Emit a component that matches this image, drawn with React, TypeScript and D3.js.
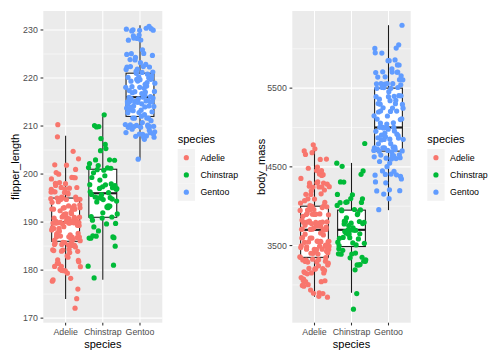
import * as React from "react";
import * as d3 from "d3";

const species = ["Adelie", "Chinstrap", "Gentoo"];
const colors = ["#F8766D", "#00BA38", "#619CFF"];

const adelieFlipper = [181, 186, 195, 193, 190, 181, 195, 193, 190, 186, 180, 182, 191, 198, 185, 195, 197, 184, 194, 174, 180, 189, 185, 180, 187, 183, 187, 172, 180, 178, 178, 188, 184, 195, 196, 190, 180, 181, 184, 182, 195, 186, 196, 185, 190, 182, 179, 190, 191, 186, 188, 190, 200, 187, 191, 186, 193, 181, 194, 185, 195, 185, 192, 184, 192, 195, 188, 190, 198, 190, 190, 196, 197, 190, 195, 191, 184, 187, 195, 189, 196, 187, 193, 191, 194, 190, 189, 189, 190, 202, 205, 185, 186, 187, 208, 190, 196, 178, 192, 192, 203, 183, 190, 193, 184, 199, 190, 181, 197, 198, 191, 193, 197, 191, 196, 188, 199, 189, 189, 187, 198, 176, 202, 186, 199, 191, 195, 191, 210, 190, 197, 193, 199, 187, 190, 191, 200, 185, 193, 193, 187, 188, 190, 192, 185, 190, 184, 195, 193, 187, 201];
const chinstrapFlipper = [192, 196, 193, 188, 197, 198, 178, 197, 195, 198, 193, 194, 185, 201, 190, 201, 197, 181, 190, 195, 181, 191, 187, 193, 195, 197, 200, 200, 191, 205, 187, 201, 187, 203, 195, 199, 195, 210, 192, 205, 210, 187, 196, 196, 196, 201, 190, 212, 187, 198, 199, 201, 193, 203, 187, 197, 191, 203, 202, 194, 206, 189, 195, 207, 202, 193, 210, 198];
const gentooFlipper = [211, 230, 210, 218, 215, 210, 211, 219, 209, 215, 214, 216, 214, 213, 210, 217, 210, 221, 209, 222, 218, 215, 213, 215, 215, 215, 216, 215, 210, 220, 222, 209, 207, 230, 220, 220, 213, 219, 208, 208, 208, 225, 210, 216, 222, 217, 210, 225, 213, 215, 210, 220, 210, 225, 217, 220, 208, 220, 208, 224, 208, 221, 214, 231, 219, 230, 214, 229, 220, 223, 216, 221, 221, 217, 216, 230, 209, 220, 215, 223, 212, 221, 212, 224, 212, 228, 218, 218, 212, 230, 218, 228, 212, 224, 214, 226, 216, 222, 203, 225, 219, 228, 215, 228, 216, 215, 210, 219, 208, 209, 216, 229, 213, 230, 217, 230, 217, 222, 214, 215, 222, 212, 213];

const adelieMass = [3750, 3800, 3250, 3450, 3650, 3625, 4675, 3475, 4250, 3300, 3700, 3200, 3800, 4400, 3700, 3450, 4500, 3325, 4200, 3400, 3600, 3800, 3950, 3800, 3800, 3550, 3200, 3150, 3950, 3250, 3900, 3300, 3900, 3325, 4150, 3950, 3550, 3300, 4650, 3150, 3900, 3100, 4400, 3000, 4600, 3425, 2975, 3450, 4150, 3500, 4300, 3450, 4050, 2900, 3700, 3550, 3800, 2850, 3750, 3150, 4400, 3600, 4050, 2850, 3950, 3350, 4100, 3050, 4450, 3600, 3900, 3550, 4150, 3700, 4250, 3700, 3900, 3550, 4000, 3200, 4700, 3800, 4200, 3350, 3550, 3800, 3500, 3950, 3600, 3550, 4300, 3400, 4450, 3300, 4300, 3700, 4350, 2900, 4100, 3725, 4725, 3075, 4250, 2925, 3550, 3750, 3900, 3175, 4775, 3825, 4600, 3200, 4275, 3900, 4075, 2900, 3775, 3350, 3325, 3150, 3500, 3450, 3875, 3050, 4000, 3275, 4300, 3050, 4000, 3325, 3500, 3500, 4475, 3425, 3900, 3175, 3975, 3400, 4250, 3400, 3475, 3050, 3725, 3000, 3650, 4250, 3475, 3450, 3750, 3700, 4000];
const chinstrapMass = [3500, 3900, 3650, 3525, 3725, 3950, 3250, 3750, 4150, 3700, 3800, 3775, 3700, 4050, 3575, 4050, 3300, 3700, 3450, 4400, 3600, 3400, 2900, 3800, 3300, 4150, 3400, 3800, 3700, 4550, 3200, 4300, 3350, 4100, 3600, 3900, 3850, 4800, 2700, 4500, 3950, 3650, 3550, 3500, 3675, 4450, 3400, 4300, 3250, 3675, 3325, 3950, 3600, 4050, 3350, 3450, 3250, 4050, 3800, 3525, 3950, 3650, 3650, 4000, 3400, 3775, 4100, 3775];
const gentooMass = [4500, 5700, 4450, 5700, 5400, 4550, 4800, 5200, 4400, 5150, 4650, 5550, 4650, 5850, 4200, 5850, 4150, 6300, 4800, 5350, 5700, 5000, 4400, 5050, 5000, 5100, 4100, 5650, 4600, 5550, 5250, 4700, 5050, 6050, 5150, 5400, 4950, 5250, 4350, 5350, 3950, 5700, 4300, 4750, 5550, 4900, 4200, 5400, 5100, 5300, 4850, 5300, 4400, 5000, 4900, 5050, 4300, 5000, 4450, 5550, 4200, 5300, 4400, 5650, 4700, 5700, 4650, 5800, 4700, 5550, 4750, 5000, 5100, 5200, 4700, 5800, 4600, 6000, 4750, 5950, 4625, 5450, 4725, 5350, 4750, 5600, 4600, 5300, 4875, 5550, 4950, 5400, 4750, 5650, 4850, 5200, 4925, 4875, 4625, 5250, 4850, 5600, 4975, 5500, 4725, 5500, 4700, 5500, 4575, 5500, 5000, 5950, 4650, 5500, 4375, 5850, 4875, 6000, 4925, 4850, 5750, 5200, 5400];

const flipperTicks = [170, 180, 190, 200, 210, 220, 230];
const massTicks = [3500, 4500, 5500];

const FONT = "'Liberation Sans', Arial, Helvetica, sans-serif";

// quasi-random spread in [-1, 1] used for jitter (40% of resolution, like geom_jitter)
const spread = (i: number, a: number, seed: number) => ((i * a + seed) % 1) * 2 - 1;

type PanelProps = {
  groups: number[][];
  ticks: number[];
  title: string;
  x0: number;
  x1: number;
  titleX: number;
  legendX: number;
  seed: number;
};

const Panel = ({ groups, ticks, title, x0, x1, titleX, legendX, seed }: PanelProps) => {
  const top = 11;
  const bottom = 322.7;
  const all = groups.flat();
  const [lo, hi] = d3.extent(all) as [number, number];
  const pad = (hi - lo) * 0.05;
  const y = d3.scaleLinear().domain([lo - pad, hi + pad]).range([bottom, top]);
  const x = d3.scaleLinear().domain([0.4, 3.6]).range([x0, x1]);
  const step = ticks[1] - ticks[0];
  const minor = d3.range(ticks[0] - step / 2, ticks[ticks.length - 1] + step, step)
    .filter(v => y(v) > top && y(v) < bottom);
  const bw = x(0.375) - x(0);
  const midY = (top + bottom) / 2;
  const uniq = Array.from(new Set(all)).sort(d3.ascending);
  const res = d3.min(d3.pairs(uniq), ([a, b]) => b - a)!;

  return (
    <g>
      <rect x={x0} y={top} width={x1 - x0} height={bottom - top} fill="#EBEBEB" />
      {minor.map(v => (
        <line key={"m" + v} x1={x0} x2={x1} y1={y(v)} y2={y(v)} stroke="#fff" strokeWidth={0.53} />
      ))}
      {ticks.map(v => (
        <line key={"g" + v} x1={x0} x2={x1} y1={y(v)} y2={y(v)} stroke="#fff" strokeWidth={1.07} />
      ))}
      {species.map((s, i) => (
        <line key={"v" + s} x1={x(i + 1)} x2={x(i + 1)} y1={top} y2={bottom} stroke="#fff" strokeWidth={1.07} />
      ))}
      {groups.map((vals, i) => {
        const s = vals.slice().sort(d3.ascending);
        const q1 = d3.quantile(s, 0.25)!;
        const med = d3.quantile(s, 0.5)!;
        const q3 = d3.quantile(s, 0.75)!;
        const iqr = q3 - q1;
        const wLo = d3.min(s.filter(v => v >= q1 - 1.5 * iqr))!;
        const wHi = d3.max(s.filter(v => v <= q3 + 1.5 * iqr))!;
        const cx = x(i + 1);
        return (
          <g key={"b" + i} stroke="#1a1a1a" strokeWidth={1.07}>
            <line x1={cx} x2={cx} y1={y(q3)} y2={y(wHi)} />
            <line x1={cx} x2={cx} y1={y(q1)} y2={y(wLo)} />
            <rect x={cx - bw} width={bw * 2} y={y(q3)} height={y(q1) - y(q3)} fill="#fff" />
            <line x1={cx - bw} x2={cx + bw} y1={y(med)} y2={y(med)} strokeWidth={2.13} />
          </g>
        );
      })}
      {groups.map((vals, i) =>
        vals.map((v, j) => (
          <circle key={`p${i}-${j}`}
            cx={x(i + 1 + 0.4 * spread(j, 0.6180339887, seed + i * 0.37))}
            cy={y(v + 0.4 * res * spread(j, 0.7548776662, seed * 1.7 + i * 0.21))}
            r={2.6} fill={colors[i]} />
        ))
      )}
      {ticks.map(v => (
        <g key={"t" + v}>
          <line x1={x0 - 2.75} x2={x0} y1={y(v)} y2={y(v)} stroke="#333333" strokeWidth={1.07} />
          <text x={x0 - 5.5} y={y(v) + 3.1} textAnchor="end" fontSize={8.8} fill="#4D4D4D" fontFamily={FONT}>{v}</text>
        </g>
      ))}
      {species.map((s, i) => (
        <g key={"xt" + s}>
          <line x1={x(i + 1)} x2={x(i + 1)} y1={bottom} y2={bottom + 2.75} stroke="#333333" strokeWidth={1.07} />
          <text x={x(i + 1)} y={334.6} textAnchor="middle" fontSize={8.8} fill="#4D4D4D" fontFamily={FONT}>{s}</text>
        </g>
      ))}
      <text x={(x0 + x1) / 2} y={347.5} textAnchor="middle" fontSize={11} fontFamily={FONT}>species</text>
      <text transform={`translate(${titleX},${midY}) rotate(-90)`} textAnchor="middle" fontSize={11} fontFamily={FONT}>{title}</text>
      <g transform={`translate(${legendX},0)`}>
        <text x={0} y={142.7} fontSize={11} fontFamily={FONT}>species</text>
        {species.map((s, i) => (
          <g key={"l" + s} transform={`translate(0,${149 + i * 17.28})`}>
            <rect width={17.28} height={17.28} fill="#F2F2F2" />
            <circle cx={8.64} cy={8.64} r={2.6} fill={colors[i]} />
            <text x={22.8} y={8.64 + 3.1} fontSize={8.8} fontFamily={FONT}>{s}</text>
          </g>
        ))}
      </g>
    </g>
  );
};

export default function App() {
  return (
    <svg width={504} height={360} style={{ display: "block", position: "absolute", left: 0, top: 0, background: "#fff" }}>
      <Panel groups={[adelieFlipper, chinstrapFlipper, gentooFlipper]} ticks={flipperTicks} title="flipper_length"
        x0={43.3} x1={162.3} titleX={19} legendX={177.7} seed={0.13} />
      <Panel groups={[adelieMass, chinstrapMass, gentooMass]} ticks={massTicks} title="body_mass"
        x0={292.3} x1={410.7} titleX={264.5} legendX={427.3} seed={0.71} />
    </svg>
  );
}
